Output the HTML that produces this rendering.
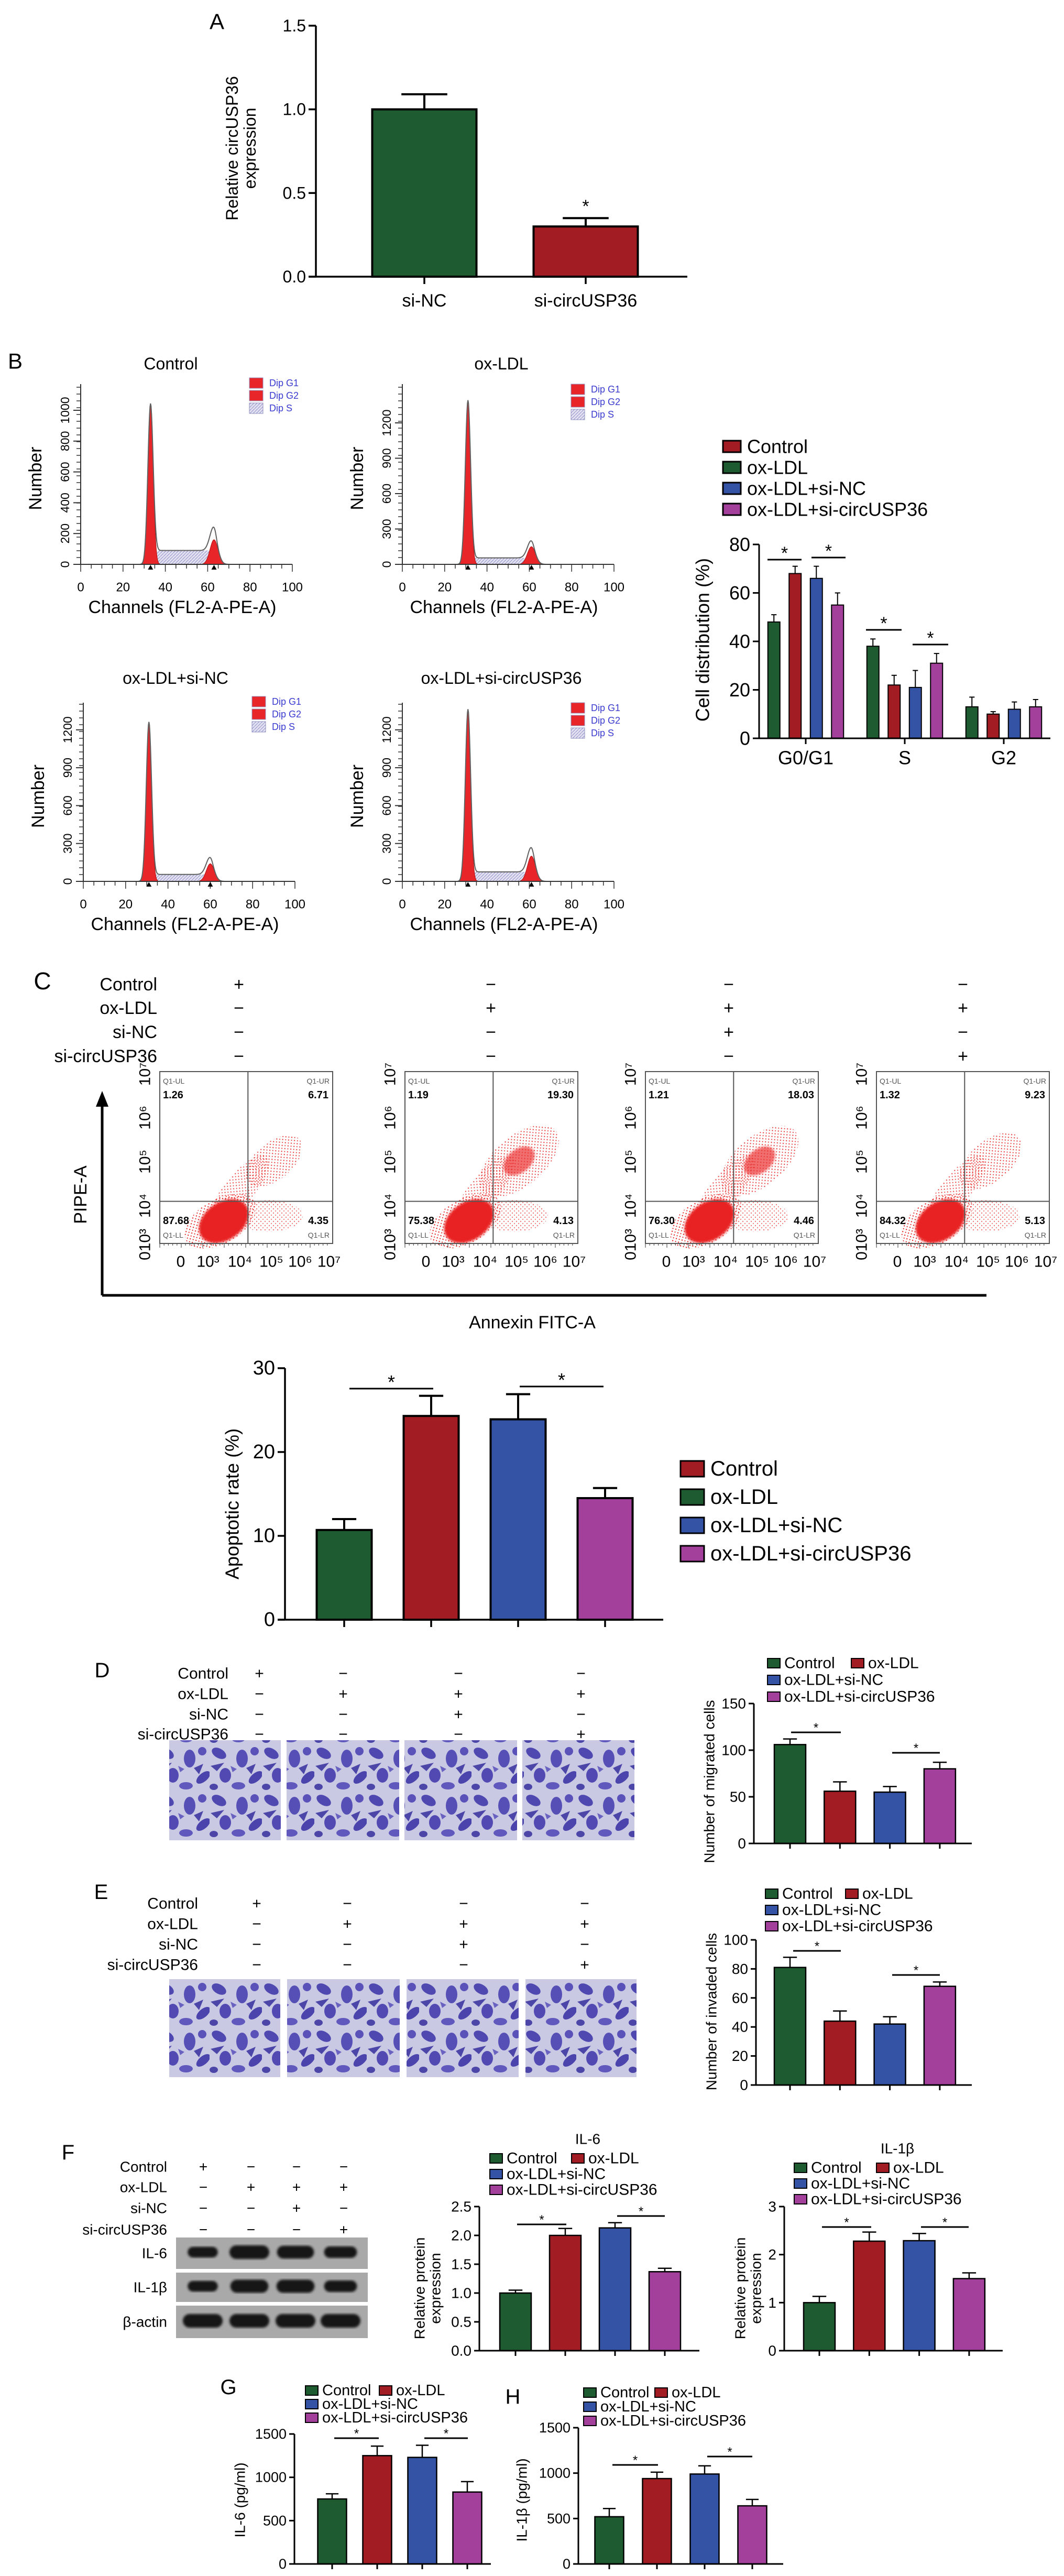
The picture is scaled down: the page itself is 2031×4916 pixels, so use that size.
<!DOCTYPE html>
<html><head><meta charset="utf-8">
<style>
html,body{margin:0;padding:0;background:#fff}
svg{display:block}
text{font-family:"Liberation Sans",Arial,sans-serif;fill:#000}
</style></head>
<body>
<svg id="fig" width="2031" height="4916" viewBox="0 0 2031 4916">
<defs>
<pattern id="hatch" width="6" height="6" patternUnits="userSpaceOnUse"><rect width="6" height="6" fill="#e2e2f2"/><path d="M0,6 L6,0" stroke="#9090c8" stroke-width="1"/></pattern>
<pattern id="reddots" width="8" height="8" patternUnits="userSpaceOnUse"><circle cx="2" cy="3" r="1.2" fill="#e82020"/><circle cx="6" cy="7" r="1.1" fill="#e82020"/></pattern>
<pattern id="cells" width="100" height="90" patternUnits="userSpaceOnUse">
<rect width="100" height="90" fill="#c9c9e4"/>
<ellipse cx="18" cy="16" rx="15" ry="9" fill="#4f48b0" transform="rotate(30 18 16)"/>
<ellipse cx="62" cy="26" rx="11" ry="17" fill="#5650b6"/>
<ellipse cx="88" cy="62" rx="16" ry="8" fill="#4a44ac" transform="rotate(-40 88 62)"/>
<ellipse cx="30" cy="58" rx="11" ry="14" fill="#524ab2"/>
<ellipse cx="55" cy="78" rx="13" ry="7" fill="#6058bc"/>
<ellipse cx="86" cy="12" rx="8" ry="8" fill="#5a52b8"/>
<ellipse cx="8" cy="80" rx="8" ry="6" fill="#4c46a8"/>
<path d="M2,40 L28,34 L14,50Z" fill="#4c46a8"/>
<path d="M70,44 L88,36 L80,56Z" fill="#4c46a8"/>
<path d="M40,40 L52,46 L44,52Z" fill="#6a62c0"/>
</pattern>
<filter id="blur2"><feGaussianBlur stdDeviation="2.5"/></filter>
</defs>
</svg>
<script>
const svg=document.getElementById('fig');
const NS='http://www.w3.org/2000/svg';
const GREEN='#1f5b31',RED='#a21d23',BLUE='#3453a5',MAG='#a3409b';
const COLORS=[GREEN,RED,BLUE,MAG];

// ---- data ----
const aCats=['si-NC','si-circUSP36'];
const aVals=[1.0,0.30];
const aErr=[0.09,0.05];
const aTicks=[0,0.5,1.0,1.5];
const aTickLabels=['0.0','0.5','1.0','1.5'];

const cdGroups=['G0/G1','S','G2'];
const cdCtrl=[48,38,13];
const cdOx=[68,22,10];
const cdNC=[66,21,12];
const cdCirc=[55,31,13];
const cdCtrlErr=[3,3,4];
const cdOxErr=[3,4,1];
const cdNCErr=[5,7,3];
const cdCircErr=[5,4,3];
const cdTicks=[0,20,40,60,80];

const apVals=[10.7,24.3,23.9,14.5];
const apErr=[1.3,2.4,3.0,1.2];
const apTicks=[0,10,20,30];

const migVals=[106,56,55,80];
const migErr=[6,10,6,7];
const migTicks=[0,50,100,150];

const invVals=[81,44,42,68];
const invErr=[7,7,5,3];
const invTicks=[0,20,40,60,80,100];

const il6Vals=[1.0,2.0,2.13,1.37];
const il6Err=[0.05,0.12,0.09,0.06];
const il6Ticks=[0,0.5,1.0,1.5,2.0,2.5];
const il6TickLabels=['0.0','0.5','1.0','1.5','2.0','2.5'];

const il1Vals=[1.0,2.28,2.29,1.5];
const il1Err=[0.13,0.19,0.15,0.12];
const il1Ticks=[0,1,2,3];

const gVals=[750,1250,1230,830];
const gErr=[60,110,140,120];
const hVals=[520,940,990,640];
const hErr=[90,70,90,70];
const elisaTicks=[0,500,1000,1500];

const histTitles=['Control','ox-LDL','ox-LDL+si-NC','ox-LDL+si-circUSP36'];
const g1Pos=[33,31,31,31];
const g1Peak=[1040,1390,1260,1360];
const g2Pos=[63,61,60,61];
const g2Peak=[160,150,140,200];
const sLevel=[90,55,55,75];

const qUL=['1.26','1.19','1.21','1.32'];
const qUR=['6.71','19.30','18.03','9.23'];
const qLL=['87.68','75.38','76.30','84.32'];
const qLR=['4.35','4.13','4.46','5.13'];

const groupNames=['Control','ox-LDL','ox-LDL+si-NC','ox-LDL+si-circUSP36'];

const blotLabels=['IL-6','IL-1\u03b2','\u03b2-actin'];
const blotIL6=[0.72,1.0,0.92,0.8];
const blotIL1=[0.72,0.95,0.95,0.8];
const blotActin=[1,1,1,1];

// ---- helpers ----
function mk(tag,attrs,parent){const e=document.createElementNS(NS,tag);for(const k in attrs)e.setAttribute(k,attrs[k]);(parent||svg).appendChild(e);return e;}
function T(x,y,s,fs,anchor,name,extra){
  const e=mk('text',Object.assign({x:x,y:y,'font-size':fs,'text-anchor':anchor||'middle','dominant-baseline':'central'},extra||{}));
  e.textContent=s;
  
  
  return e;
}
function L(x1,y1,x2,y2,w,name,col){
  const e=mk('line',{x1:x1,y1:y1,x2:x2,y2:y2,stroke:col||'#000','stroke-width':w});
  
  
  return e;
}
function sig(x1,x2,y,fs,name){
  L(x1,y,x2,y,3,name+'-line');
  T((x1+x2)/2,y-fs*0.35,'*',fs,'middle',name+'-star');
}

function barChart(o){
  const g=mk('g',{});
  
  
  const ys=v=>o.y0-v/o.max*(o.y0-o.yTop);
  const n=o.vals.length;
  for(let i=0;i<n;i++){
    const cx=o.center(i), top=ys(o.vals[i]), et=ys(o.vals[i]+o.errs[i]);
    const ew=o.barW*0.22;
    const el=mk('line',{x1:cx,y1:top,x2:cx,y2:et,stroke:'#000','stroke-width':o.sw},g);
    
    
    const ec=mk('line',{x1:cx-ew,y1:et,x2:cx+ew,y2:et,stroke:'#000','stroke-width':o.sw},g);
    
    
    const r=mk('rect',{x:cx-o.barW/2,y:top,width:o.barW,height:o.y0-top,fill:o.colors[i],stroke:'#000','stroke-width':o.sw},g);
    
    
    if(o.xTicks){const t=mk('line',{x1:cx,y1:o.y0,x2:cx,y2:o.y0+o.tickLen,stroke:'#000','stroke-width':o.aw},g);
      
      }
  }
  const ya=mk('line',{x1:o.x0,y1:o.y0,x2:o.x0,y2:o.yTop,stroke:'#000','stroke-width':o.aw},g);
  
  
  const xa=mk('line',{x1:o.x0-o.tickLen,y1:o.y0,x2:o.xEnd,y2:o.y0,stroke:'#000','stroke-width':o.aw},g);
  
  
  o.ticks.forEach((v,i)=>{
    const y=ys(v);
    const tk=mk('line',{x1:o.x0-o.tickLen,y1:y,x2:o.x0,y2:y,stroke:'#000','stroke-width':o.aw},g);
    
    
    T(o.x0-o.tickLen-5,y,o.tickLabels?o.tickLabels[i]:String(v),o.fs,'end',o.name+'-y-tick-label');
  });
  return ys;
}

function legendV(x,y,dy,bw,bh,fs,cols,name){
  groupNames.forEach((nm,i)=>{
    const r=mk('rect',{x:x,y:y+i*dy-bh/2,width:bw,height:bh,fill:cols[i],stroke:'#000','stroke-width':3});
    
    
    T(x+bw+12,y+i*dy,nm,fs,'start',name+'-label-'+i);
  });
}
function legend4(x,x2,y,dy,bw,bh,fs,name){
  const pos=[[x,y],[x2,y],[x,y+dy],[x,y+2*dy]];
  groupNames.forEach((nm,i)=>{
    const r=mk('rect',{x:pos[i][0],y:pos[i][1]-bh/2,width:bw,height:bh,fill:COLORS[i],stroke:'#000','stroke-width':2});
    
    
    T(pos[i][0]+bw+8,pos[i][1],nm,fs,'start',name+'-label-'+i);
  });
}
function rowLabels(xr,ys,cols,marks,fs,name){
  const labels=['Control','ox-LDL','si-NC','si-circUSP36'];
  labels.forEach((lb,r)=>{
    T(xr,ys[r],lb,fs,'end',name+'-row-'+lb);
    cols.forEach((cx,c)=>{T(cx,ys[r],marks[r][c],fs,'middle',name+'-mark');});
  });
}
const MARKS=[['+','\u2212','\u2212','\u2212'],['\u2212','+','+','+'],['\u2212','\u2212','+','\u2212'],['\u2212','\u2212','\u2212','+']];

// ---- Panel A ----
T(414,41,'A',42,'middle','panel-a-letter');
const aY=barChart({name:'panel-a-chart',x0:603,y0:528,yTop:49,max:1.5,ticks:aTicks,tickLabels:aTickLabels,xEnd:1312,
  center:i=>810+i*308,barW:199,vals:aVals,errs:aErr,colors:[GREEN,RED],sw:4,aw:3.5,tickLen:14,fs:32,xTicks:true});
aCats.forEach((c,i)=>T(810+i*308,574,c,34,'middle','panel-a-x-label'));
T(1118,aY(aVals[1]+aErr[1])-22,'*',34,'middle','panel-a-star');
T(443,283,'Relative circUSP36',32,'middle','panel-a-y-title',{transform:'rotate(-90 443 283)'});
T(477,283,'expression',32,'middle','panel-a-y-title-2',{transform:'rotate(-90 477 283)'});

// ---- Panel B histograms ----
T(29,689,'B',42,'middle','panel-b-letter');
const histLayout=[
  {x0:154,y0:1077,ppu:0.294,yTop:733,ticks:[0,200,400,600,800,1000],tx:326,ty:694},
  {x0:768,y0:1077,ppu:0.225,yTop:733,ticks:[0,300,600,900,1200],tx:957,ty:694},
  {x0:159,y0:1682,ppu:0.241,yTop:1341,ticks:[0,300,600,900,1200],tx:335,ty:1294},
  {x0:768,y0:1682,ppu:0.241,yTop:1341,ticks:[0,300,600,900,1200],tx:957,ty:1294}];
histLayout.forEach((h,i)=>{
  const nm='histogram-'+histTitles[i].toLowerCase().replace(/[^a-z0-9]+/g,'-');
  const X=ch=>h.x0+ch*4.04, Y=v=>h.y0-v*h.ppu;
  T(h.tx,h.ty,histTitles[i],32,'middle',nm+'-title');
  const g1=ch=>g1Peak[i]*Math.exp(-Math.pow((ch-g1Pos[i])/1.25,2)/2);
  const g2=ch=>g2Peak[i]*Math.exp(-Math.pow((ch-g2Pos[i])/1.9,2)/2);
  const sv=ch=>{const a=1/(1+Math.exp(-(ch-g1Pos[i]-1.5)*2)),b=1/(1+Math.exp((ch-g2Pos[i]-1)*2));return sLevel[i]*a*b;};
  let pS='M'+X(g1Pos[i])+','+h.y0, pG1='M'+X(g1Pos[i]-5)+','+h.y0, pG2='M'+X(g2Pos[i]-6)+','+h.y0, pT='';
  for(let ch=g1Pos[i]-6;ch<=g2Pos[i]+7;ch+=0.25){
    if(ch>=g1Pos[i]&&ch<=g2Pos[i]+3) pS+=' L'+X(ch)+','+Y(sv(ch));
    if(ch>=g1Pos[i]-5&&ch<=g1Pos[i]+5) pG1+=' L'+X(ch)+','+Y(g1(ch));
    if(ch>=g2Pos[i]-6&&ch<=g2Pos[i]+6) pG2+=' L'+X(ch)+','+Y(g2(ch));
    pT+=(pT?' L':'M')+X(ch)+','+Y(g1(ch)+g2(ch)+sv(ch));
  }
  pS+=' L'+X(g2Pos[i]+3)+','+h.y0+'Z'; pG1+=' L'+X(g1Pos[i]+5)+','+h.y0+'Z'; pG2+=' L'+X(g2Pos[i]+6)+','+h.y0+'Z';
  const s=mk('path',{d:pS,fill:'url(#hatch)',stroke:'none'});
  
  
  const a=mk('path',{d:pG1,fill:'#e8262a',stroke:'#b01010','stroke-width':1});
  
  
  const b=mk('path',{d:pG2,fill:'#e8262a',stroke:'#b01010','stroke-width':1});
  
  
  const t=mk('path',{d:pT,fill:'none',stroke:'#606060','stroke-width':2});
  
  
  L(h.x0,h.y0,h.x0+404,h.y0,2,nm+'-x-axis','#333');
  L(h.x0,h.y0,h.x0,h.yTop,2,nm+'-y-axis','#333');
  for(let c=0;c<=100;c+=5){L(X(c),h.y0,X(c),h.y0+(c%20==0?14:8),1.5,nm+'-x-tick','#333');}
  [0,20,40,60,80,100].forEach(c=>T(X(c),h.y0+44,String(c),24,'middle',nm+'-x-tick-label'));
  for(let yy=h.y0;yy>=h.yTop;yy-=13){L(h.x0-8,yy,h.x0,yy,1.5,nm+'-y-minor-tick','#333');}
  h.ticks.forEach(v=>{L(h.x0-14,Y(v),h.x0,Y(v),2,nm+'-y-tick','#333');
    T(h.x0-30,Y(v),String(v),23,'middle',nm+'-y-tick-label',{transform:'rotate(-90 '+(h.x0-30)+' '+Y(v)+')'});});
  T(h.x0+150+44,h.y0+82,'Channels (FL2-A-PE-A)',34,'middle',nm+'-x-title');
  T(h.x0-86,(h.y0+h.yTop)/2+8,'Number',34,'middle',nm+'-y-title',{transform:'rotate(-90 '+(h.x0-86)+' '+((h.y0+h.yTop)/2+8)+')'});
  [g1Pos[i],g2Pos[i]].forEach(p=>{const tr=mk('path',{d:'M'+(X(p)-5)+','+(h.y0+10)+' L'+(X(p)+5)+','+(h.y0+10)+' L'+X(p)+','+(h.y0+1)+'Z',fill:'#000'});
    
    });
  const lx=h.x0+322, ly=h.yTop-2+(i%2)*12;
  [['Dip G1','#e8262a'],['Dip G2','#e8262a'],['Dip S','url(#hatch)']].forEach((d,k)=>{
    const r=mk('rect',{x:lx,y:ly+k*24-10,width:26,height:20,fill:d[1],stroke:'#9090c0','stroke-width':1});
    
    
    T(lx+38,ly+k*24,d[0],18,'start',nm+'-legend-label',{style:'fill:#3a3ad0'});
  });
});

// ---- Panel B cell distribution ----
const cdSeries=[cdCtrl,cdOx,cdNC,cdCirc];
const cdErrs=[cdCtrlErr,cdOxErr,cdNCErr,cdCircErr];
cdSeries.forEach((ser,s)=>{
  barChart({name:'cell-distribution-series-'+s,x0:1449,y0:1409,yTop:1039,max:80,ticks:s==0?cdTicks:[],xEnd:2005,
    center:g=>1538+g*189+(s-1.5)*40.5,barW:23,vals:ser,errs:cdErrs[s],colors:[COLORS[s],COLORS[s],COLORS[s]],sw:2,aw:3,tickLen:12,fs:36,xTicks:false});
});
cdGroups.forEach((gname,g)=>{T(1538+g*189,1446,gname,36,'middle','cell-distribution-x-label');
  L(1538+g*189,1409,1538+g*189,1420,3,'cell-distribution-x-tick');});
sig(1465,1530,1068,34,'cell-dist-sig-1');
sig(1549,1614,1064,34,'cell-dist-sig-2');
sig(1653,1721,1202,34,'cell-dist-sig-3');
sig(1742,1810,1230,34,'cell-dist-sig-4');
T(1341,1221,'Cell distribution (%)',36,'middle','cell-distribution-y-title',{transform:'rotate(-90 1341 1221)'});
legendV(1380,852,40,34,22,36,[RED,GREEN,BLUE,MAG],'cell-distribution-legend');

// ---- Panel C flow ----
T(81,1872,'C',46,'middle','panel-c-letter');
rowLabels(300,[1879,1924,1970,2016],[456,937,1391,1838],MARKS,34,'panel-c');
const boxes=[305,773,1232,1673];
boxes.forEach((bx,i)=>{
  const nm='flow-plot-'+i, by=2045, w=330, h=328, vx=bx+w*0.51, hy=by+h*0.755;
  const urS=Math.sqrt(parseFloat(qUR[i]))/4.4;
  const ux=vx+w*0.15, uy=by+h*0.52;
  const e1=mk('ellipse',{cx:ux,cy:uy,rx:w*0.2*urS+25,ry:h*0.09*urS+18,fill:'url(#reddots)',opacity:0.85,transform:'rotate(-40 '+ux+' '+uy+')'});
  
  
  const dx0=vx-15, dy0=by+h*0.68;
  const e3=mk('ellipse',{cx:dx0,cy:dy0,rx:80,ry:28,fill:'url(#reddots)',opacity:0.8,transform:'rotate(-50 '+dx0+' '+dy0+')'});
  
  
  const e4=mk('ellipse',{cx:vx+w*0.12,cy:by+h*0.84,rx:65,ry:30,fill:'url(#reddots)',opacity:0.6});
  
  
  if(parseFloat(qUR[i])>15){const e5=mk('ellipse',{cx:ux,cy:uy,rx:34,ry:22,fill:'#ec3030',opacity:0.7,filter:'url(#blur2)',transform:'rotate(-40 '+ux+' '+uy+')'});
    
    }
  const e6=mk('ellipse',{cx:bx+w*0.35,cy:by+h*0.87,rx:75,ry:42,fill:'url(#reddots)',opacity:1,transform:'rotate(-30 '+(bx+w*0.35)+' '+(by+h*0.87)+')'});
  
  
  const lcx=bx+w*0.37, lcy=by+h*0.87;
  const e2=mk('ellipse',{cx:lcx,cy:lcy,rx:52,ry:36,fill:'#e82020',filter:'url(#blur2)',transform:'rotate(-35 '+lcx+' '+lcy+')'});
  
  
  const r=mk('rect',{x:bx,y:by,width:w,height:h,fill:'none',stroke:'#555','stroke-width':2});
  
  
  L(vx,by,vx,by+h,2,nm+'-vertical-gate','#555');
  L(bx,hy,bx+w,hy,2,nm+'-horizontal-gate','#555');
  T(bx+6,by+18,'Q1-UL',14,'start',nm+'-ul-name',{style:'fill:#555'});
  T(bx+w-6,by+18,'Q1-UR',14,'end',nm+'-ur-name',{style:'fill:#555'});
  T(bx+6,by+h-16,'Q1-LL',14,'start',nm+'-ll-name',{style:'fill:#555'});
  T(bx+w-6,by+h-16,'Q1-LR',14,'end',nm+'-lr-name',{style:'fill:#555'});
  T(bx+6,by+45,qUL[i],20,'start',nm+'-ul-value',{'font-weight':'bold'});
  T(bx+w-8,by+45,qUR[i],20,'end',nm+'-ur-value',{'font-weight':'bold'});
  T(bx+6,by+h-43,qLL[i],20,'start',nm+'-ll-value',{'font-weight':'bold'});
  T(bx+w-8,by+h-43,qLR[i],20,'end',nm+'-lr-value',{'font-weight':'bold'});
  const xl=['0','10\u00b3','10\u2074','10\u2075','10\u2076','10\u2077'];
  [40,92,153,213,268,323].forEach((dx,k)=>T(bx+dx,2408,xl[k],30,'middle',nm+'-x-tick-label'));
  const yl=['10\u2077','10\u2076','10\u2075','10\u2074','010\u00b3'];
  [10,93,177,261,345].forEach((dy,k)=>T(bx-28,by+dy-5+ (k==4?-10:0),yl[k],30,'middle',nm+'-y-tick-label',{transform:'rotate(-90 '+(bx-28)+' '+(by+dy-5+(k==4?-10:0))+')'}));
  for(let k=0;k<40;k++){L(bx+k*8.2,by+h,bx+k*8.2,by+h+(k%5==0?8:4),1.2,nm+'-minor-tick','#555');}
});
L(195,2472,1883,2472,5,'annexin-axis-arrow-line');
L(195,2472,195,2110,5,'pi-axis-arrow-line');
const ah=mk('path',{d:'M183,2112 L207,2112 L195,2082Z',fill:'#000'});


T(154,2280,'PIPE-A',34,'middle','pi-axis-title',{transform:'rotate(-90 154 2280)'});
T(1016,2524,'Annexin FITC-A',34,'middle','annexin-axis-title');

// ---- Apoptosis chart ----
barChart({name:'apoptotic-rate-chart',x0:544,y0:3091,yTop:2611,max:30,ticks:apTicks,xEnd:1266,
  center:i=>657+i*166,barW:105,vals:apVals,errs:apErr,colors:COLORS,sw:4,aw:3.5,tickLen:14,fs:38,xTicks:true});
sig(667,827,2650,36,'apoptosis-sig-1');
sig(992,1152,2646,36,'apoptosis-sig-2');
T(443,2870,'Apoptotic rate (%)',36,'middle','apoptotic-y-title',{transform:'rotate(-90 443 2870)'});
legendV(1299,2803,54,45,30,40,[RED,GREEN,BLUE,MAG],'apoptosis-legend');

// ---- Panel D ----
T(195,3188,'D',40,'middle','panel-d-letter');
rowLabels(436,[3194,3233,3272,3310],[495,655,875,1109],MARKS,30,'panel-d');
[[323,536],[547,762],[772,987],[997,1211]].forEach((p,i)=>{
  const r=mk('rect',{x:p[0],y:3321,width:p[1]-p[0],height:191,fill:'url(#cells)'});
  
  
});
barChart({name:'migrated-cells-chart',x0:1439,y0:3518,yTop:3251,max:150,ticks:migTicks,xEnd:1855,
  center:i=>1508+i*95.3,barW:60,vals:migVals,errs:migErr,colors:COLORS,sw:2.5,aw:3,tickLen:10,fs:28,xTicks:true});
sig(1510,1605,3306,24,'migrated-sig-1');
sig(1703,1794,3345,24,'migrated-sig-2');
T(1354,3400,'Number of migrated cells',28,'middle','migrated-y-title',{transform:'rotate(-90 1354 3400)'});
legend4(1465,1625,3174,32,24,18,30,'migrated-legend');

// ---- Panel E ----
T(193,3611,'E',40,'middle','panel-e-letter');
rowLabels(378,[3633,3672,3711,3750],[490,663,885,1116],MARKS,30,'panel-e');
[[323,535],[548,763],[776,990],[1003,1215]].forEach((p,i)=>{
  const r=mk('rect',{x:p[0],y:3777,width:p[1]-p[0],height:187,fill:'url(#cells)'});
  
  
});
barChart({name:'invaded-cells-chart',x0:1443,y0:3979,yTop:3702,max:100,ticks:invTicks,xEnd:1855,
  center:i=>1508+i*95.3,barW:60,vals:invVals,errs:invErr,colors:COLORS,sw:2.5,aw:3,tickLen:10,fs:28,xTicks:true});
sig(1514,1605,3723,24,'invaded-sig-1');
sig(1703,1794,3769,24,'invaded-sig-2');
T(1358,3839,'Number of invaded cells',28,'middle','invaded-y-title',{transform:'rotate(-90 1358 3839)'});
legend4(1461,1614,3614,31,24,18,30,'invaded-legend');

// ---- Panel F ----
T(130,4108,'F',40,'middle','panel-f-letter');
rowLabels(319,[4135,4174,4214,4255],[388,479,566,656],MARKS,28,'panel-f');
const blotTops=[4270,4337,4400];
const blotBottoms=[4330,4393,4462];
const blotInt=[blotIL6,blotIL1,blotActin];
const bandX=[387,476,564,650];
for(let k=0;k<3;k++){
  const strip=mk('rect',{x:336,y:blotTops[k],width:366,height:blotBottoms[k]-blotTops[k],fill:'#a9a9a9'});
  
  
  T(319,(blotTops[k]+blotBottoms[k])/2,blotLabels[k],28,'end','blot-label-'+k);
  for(let c=0;c<4;c++){
    const v=blotInt[k][c];
    const bw=66*v+10, bh=20*v+6, cy=(blotTops[k]+blotBottoms[k])/2-2;
    const band=mk('rect',{x:bandX[c]-bw/2,y:cy-bh/2,width:bw,height:bh,rx:bh/2,ry:bh/2,fill:'#141414',filter:'url(#blur2)'});
    
    
  }
}
T(1122,4082,'IL-6',28,'middle','il6-chart-title');
barChart({name:'il6-protein-chart',x0:915,y0:4486,yTop:4211,max:2.5,ticks:il6Ticks,tickLabels:il6TickLabels,xEnd:1335,
  center:i=>984+i*95,barW:60,vals:il6Vals,errs:il6Err,colors:COLORS,sw:2.5,aw:3,tickLen:10,fs:28,xTicks:true});
sig(987,1081,4245,24,'il6-sig-1');
sig(1178,1269,4229,24,'il6-sig-2');
T(801,4367,'Relative protein',28,'middle','il6-y-title',{transform:'rotate(-90 801 4367)'});
T(831,4367,'expression',28,'middle','il6-y-title-2',{transform:'rotate(-90 831 4367)'});
legend4(935,1091,4119,30,24,18,30,'il6-legend');
T(1713,4100,'IL-1\u03b2',28,'middle','il1b-chart-title');
barChart({name:'il1b-protein-chart',x0:1497,y0:4486,yTop:4211,max:3,ticks:il1Ticks,xEnd:1914,
  center:i=>1564+i*95.3,barW:60,vals:il1Vals,errs:il1Err,colors:COLORS,sw:2.5,aw:3,tickLen:10,fs:28,xTicks:true});
sig(1569,1663,4250,24,'il1b-sig-1');
sig(1758,1849,4250,24,'il1b-sig-2');
T(1413,4367,'Relative protein',28,'middle','il1b-y-title',{transform:'rotate(-90 1413 4367)'});
T(1443,4367,'expression',28,'middle','il1b-y-title-2',{transform:'rotate(-90 1443 4367)'});
legend4(1516,1673,4137,30,24,18,30,'il1b-legend');

// ---- Panel G ----
T(436,4556,'G',40,'middle','panel-g-letter');
barChart({name:'il6-elisa-chart',x0:562,y0:4893,yTop:4645,max:1500,ticks:elisaTicks,xEnd:937,
  center:i=>634+i*86,barW:55,vals:gVals,errs:gErr,colors:COLORS,sw:2.5,aw:3,tickLen:10,fs:27,xTicks:true});
sig(638,723,4653,24,'il6-elisa-sig-1');
sig(810,893,4653,24,'il6-elisa-sig-2');
T(458,4771,'IL-6 (pg/ml)',28,'middle','il6-elisa-y-title',{transform:'rotate(-90 458 4771)'});
legend4(583,724,4562,26,24,18,29,'il6-elisa-legend');

// ---- Panel H ----
T(979,4574,'H',40,'middle','panel-h-letter');
barChart({name:'il1b-elisa-chart',x0:1104,y0:4893,yTop:4633,max:1500,ticks:elisaTicks,xEnd:1495,
  center:i=>1163+i*91,barW:55,vals:hVals,errs:hErr,colors:COLORS,sw:2.5,aw:3,tickLen:10,fs:27,xTicks:true});
sig(1169,1256,4704,24,'il1b-elisa-sig-1');
sig(1350,1436,4688,24,'il1b-elisa-sig-2');
T(996,4771,'IL-1\u03b2 (pg/ml)',28,'middle','il1b-elisa-y-title',{transform:'rotate(-90 996 4771)'});
legend4(1114,1250,4566,27,24,18,29,'il1b-elisa-legend');
</script>
</body></html>
